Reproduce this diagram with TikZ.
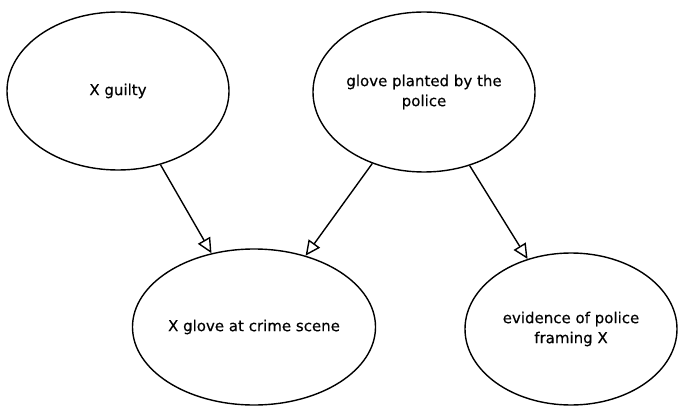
\documentclass[tikz,border=0pt]{standalone}
\usepackage{fontspec}
\setmainfont{DejaVu Sans}[FakeBold=0.4]
\usetikzlibrary{shapes.geometric,arrows.meta}
\begin{document}
\begin{tikzpicture}[x=1pt,y=-1pt,
  bn/.style={draw=black, line width=1.4pt, ellipse, inner sep=0pt, align=center,
    font=\fontsize{15}{20}\selectfont},
  link/.style={draw=black, line width=1.4pt,
    -{Triangle[open, length=15pt, width=14pt, line width=1.4pt]}}]
\useasboundingbox (0,0) rectangle (679,406);
\node[bn, minimum width=222pt, minimum height=158pt] (g) at (118,91) {X guilty};
\node[bn, minimum width=222pt, minimum height=160pt] (p) at (424,92) {glove planted by the\\police};
\node[bn, minimum width=222pt, minimum height=156pt] (c) at (254,327) {X glove at crime scene};
\node[bn, minimum width=212pt, minimum height=152pt] (e) at (571,329) {evidence of police\\framing X};
\draw[link] (g) -- (c);
\draw[link] (p) -- (c);
\draw[link] (p) -- (e);
\end{tikzpicture}
\end{document}
